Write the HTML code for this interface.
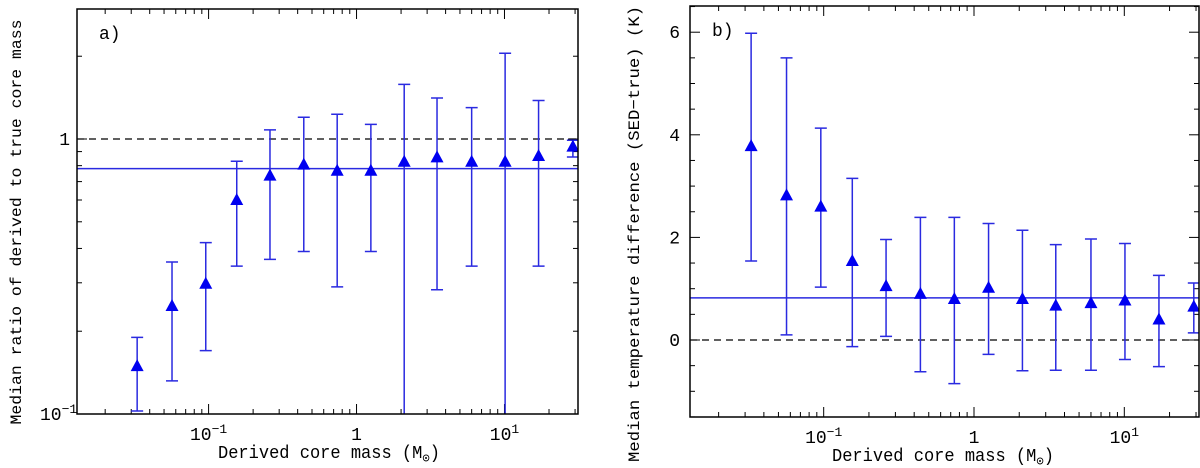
<!DOCTYPE html>
<html><head><meta charset="utf-8"><style>
html,body{margin:0;background:#fff;overflow:hidden;width:1200px;height:468px}
svg text{font-family:"Liberation Mono","DejaVu Sans Mono",monospace;fill:#000}
</style></head><body>
<svg id="s" width="1200" height="468" xmlns="http://www.w3.org/2000/svg" style="display:block;overflow:hidden"></svg>
<script>
const xMass=[0.0329,0.0566,0.0957,0.155,0.26,0.44,0.74,1.25,2.1,3.5,6.0,10.1,17,29];
const ratioMed=[0.148,0.245,0.295,0.595,0.73,0.80,0.76,0.76,0.82,0.85,0.82,0.82,0.86,0.93];
const ratioHi=[0.19,0.357,0.42,0.83,1.08,1.2,1.23,1.13,1.58,1.41,1.30,2.05,1.38,0.99];
const ratioLo=[0.1025,0.132,0.17,0.345,0.365,0.39,0.29,0.39,0.05,0.283,0.345,0.05,0.345,0.86];
const ratioLine=[0.78];
const tMed=[3.76,2.8,2.58,1.52,1.03,0.88,0.78,1.0,0.78,0.65,0.7,0.75,0.38,0.63];
const tHi=[5.98,5.5,4.13,3.15,1.96,2.39,2.39,2.27,2.14,1.86,1.97,1.88,1.26,1.11];
const tLo=[1.54,0.1,1.03,-0.13,0.07,-0.62,-0.85,-0.28,-0.6,-0.59,-0.59,-0.38,-0.52,0.14];
const tLine=[0.82];
const NS="http://www.w3.org/2000/svg";
const svg=document.getElementById('s');
function el(t,a,p){const e=document.createElementNS(NS,t);for(const k in a)e.setAttribute(k,a[k]);(p||svg).appendChild(e);return e;}
const BLUE="#2a2ae0";
function panel(P){
  const g=el('g',{});
  
  
  const {x0,x1,y0,y1}=P;
  const lx0=Math.log10(0.0129),lx1=Math.log10(31.4);
  const X=v=>x0+(Math.log10(v)-lx0)/(lx1-lx0)*(x1-x0);
  const Y=P.Y;
  for(let d=-2;d<=1;d++)for(let m=1;m<=9;m++){const v=m*Math.pow(10,d);if(v<0.0129||v>31.4)continue;const px=X(v);const L=m==1?10:5;
    const t1=el('line',{x1:px,x2:px,y1:y1,y2:y1-L,stroke:'#000','stroke-width':1},g);
    el('line',{x1:px,x2:px,y1:y0,y2:y0+L,stroke:'#000','stroke-width':1},g);}
  const xl=[[0.1,"10","−1"],[1,"1",""],[10,"10","1"]];
  xl.forEach(([v,b,s])=>{const t=el('text',{x:X(v),y:y1+26,'font-size':18,'text-anchor':'middle'},g);t.textContent=b;if(s){const ts=el('tspan',{dy:-7,'font-size':13},t);ts.textContent=s;}});
  P.yTicks(g,Y);
  const dl=el('line',{x1:x0,x2:x1,y1:Y(P.ref),y2:Y(P.ref),stroke:'#000','stroke-width':1.2,'stroke-dasharray':'7,5'},g);
  const ml=el('line',{x1:x0,x2:x1,y1:Y(P.line[0]),y2:Y(P.line[0]),stroke:BLUE,'stroke-width':1.5},g);
  const cid='c'+P.name;const cp=el('clipPath',{id:cid},g);el('rect',{x:x0,y:y0,width:x1-x0,height:y1-y0},cp);
  const dg=el('g',{'clip-path':'url(#'+cid+')'},g);
  xMass.forEach((xv,i)=>{const px=X(xv),yt=Y(P.hi[i]),yb=Y(P.lo[i]),ym=Y(P.med[i]);
    const e=el('path',{d:`M${px},${yt}V${yb}M${px-6},${yt}H${px+6}M${px-6},${yb}H${px+6}`,stroke:BLUE,'stroke-width':1.5,fill:'none'},dg);
    const t=el('path',{d:`M${px},${ym-8}L${px+6.5},${ym+4}L${px-6.5},${ym+4}Z`,fill:'#0000f0'},dg);});
  const fr=el('rect',{x:x0,y:y0,width:x1-x0,height:y1-y0,fill:'none',stroke:'#000','stroke-width':1.5},g);
  const lab=el('text',{x:x0+22,y:y0+30,'font-size':18},g);lab.textContent=P.label;
  const xt=el('text',{x:P.xtx,y:y1+44,'font-size':18,textLength:222,lengthAdjust:'spacingAndGlyphs'},g);xt.textContent='Derived core mass (M';const sb=el('tspan',{'font-size':13,dy:4},xt);sb.textContent='⊙';const cl=el('tspan',{dy:-4},xt);cl.textContent=')';
  const yt=el('text',{x:0,y:0,'font-size':16,'text-anchor':'middle',textLength:P.ytl,lengthAdjust:'spacingAndGlyphs',transform:`translate(${P.ytx},${P.ytc}) rotate(-90)`},g);yt.textContent=P.ytitle;
}
const Lly0=Math.log10(0.1),Lly1=Math.log10(2.97);
const YL=v=>414-(Math.log10(v)-Lly0)/(Lly1-Lly0)*(414-9);
panel({name:'panel-a',x0:77,x1:578,y0:9,y1:414,Y:YL,ref:1,line:ratioLine,med:ratioMed,hi:ratioHi,lo:ratioLo,label:'a)',ytx:21,ytc:222,ytl:405,xtx:218,ytitle:'Median ratio of derived to true core mass',
 yTicks:(g,Y)=>{for(let d=-1;d<=0;d++)for(let m=1;m<=9;m++){const v=m*Math.pow(10,d);if(v>2.97)continue;const py=Y(v);const L=m==1?10:5;
  const t=el('line',{x1:77,x2:77+L,y1:py,y2:py,stroke:'#000'},g);el('line',{x1:578,x2:578-L,y1:py,y2:py,stroke:'#000'},g);}
  let t=el('text',{x:70,y:YL(1)+6,'font-size':18,'text-anchor':'end'},g);t.textContent='1';
  t=el('text',{x:40,y:YL(0.1)+6,'font-size':18},g);t.textContent='10';const s=el('tspan',{dy:-7,'font-size':13},t);s.textContent='−1';
 }});
const YR=v=>340-v*51.3;
panel({name:'panel-b',x0:690,x1:1199,y0:6,y1:417,Y:YR,ref:0,line:tLine,med:tMed,hi:tHi,lo:tLo,label:'b)',ytx:639,ytc:234,ytl:456,xtx:832,ytitle:'Median temperature difference (SED−true) (K)',
 yTicks:(g,Y)=>{for(let k=-3;k<=13;k++){const v=k*0.5;const py=Y(v);if(py<6||py>417)continue;const L=(k%4==0)?10:5;
  const t=el('line',{x1:690,x2:690+L,y1:py,y2:py,stroke:'#000'},g);el('line',{x1:1199,x2:1199-L,y1:py,y2:py,stroke:'#000'},g);
  if(k%4==0){const tl=el('text',{x:680,y:py+6,'font-size':18,'text-anchor':'end'},g);tl.textContent=String(v);}}
 }});
</script>
</body></html>
